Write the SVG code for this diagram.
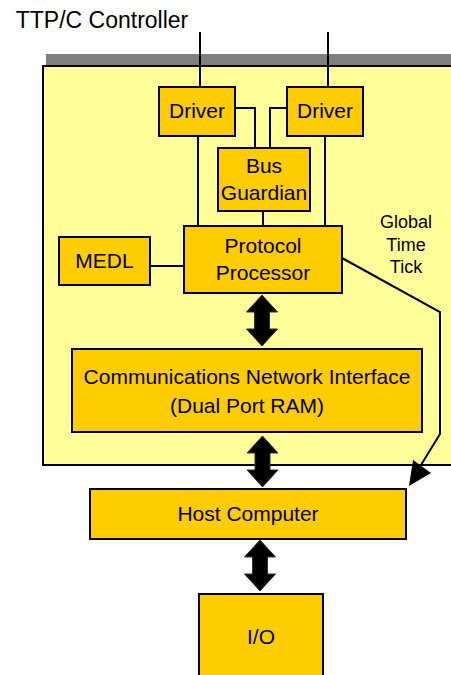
<svg xmlns="http://www.w3.org/2000/svg" width="451" height="675" viewBox="0 0 451 675">
<style>
.box{fill:#FFCC00;stroke:#000;stroke-width:2}
.t{font-family:"Liberation Sans",Arial,sans-serif;fill:#000;text-anchor:middle}
.b{font-size:21px}
.ln{fill:none;stroke:#000;stroke-width:2}
</style>
<defs>
<path id="dbl" d="M0,0 L15.5,17 L7.5,17 L7.5,34 L15.5,34 L0,51 L-15.5,34 L-7.5,34 L-7.5,17 L-15.5,17 Z" fill="#000" stroke="#333" stroke-width="1"/>
</defs>
<rect width="451" height="675" fill="#fff"/>
<g id="controller">
<rect x="46" y="54" width="410" height="11" fill="#808080"/>
<rect x="43" y="66" width="420" height="399" fill="#FFFF99" stroke="#000" stroke-width="2"/>
<text class="t" x="102" y="28" font-size="23">TTP/C Controller</text>
</g>
<g id="connectors">
<path class="ln" d="M200,32 V87 M328,32 V87"/>
<path class="ln" d="M235,108 H255 V148 M287,108 H270 V148"/>
<path class="ln" d="M198,136 V226 M325,136 V226 M263,211 V226"/>
<path class="ln" d="M151,266 H183"/>
<path class="ln" d="M342,258 L440,312 L440,434 L421,465"/>
<polygon points="409,486 413,460 431,473" fill="#000"/>
<use href="#dbl" x="262" y="295"/>
<use href="#dbl" x="262.5" y="436"/>
<use href="#dbl" x="260" y="540"/>
</g>
<g id="driver1"><rect class="box" x="159" y="87" width="76" height="49"/><text class="t b" x="197" y="118">Driver</text></g>
<g id="driver2"><rect class="box" x="287" y="87" width="76" height="49"/><text class="t b" x="325" y="118">Driver</text></g>
<g id="bus-guardian"><rect class="box" x="218" y="148" width="92" height="63"/><text class="t b" x="264" y="173">Bus</text><text class="t b" x="264" y="200">Guardian</text></g>
<g id="protocol-processor"><rect class="box" x="184" y="226" width="158" height="67"/><text class="t b" x="263" y="253">Protocol</text><text class="t b" x="263" y="280">Processor</text></g>
<g id="medl"><rect class="box" x="59" y="237" width="91" height="48"/><text class="t b" x="104.5" y="268">MEDL</text></g>
<g id="global-time-tick"><text class="t" x="406" y="228" font-size="18">Global</text><text class="t" x="406" y="251" font-size="18">Time</text><text class="t" x="406" y="273" font-size="18">Tick</text></g>
<g id="cni"><rect class="box" x="72" y="349" width="350" height="83"/><text class="t b" x="247" y="384">Communications Network Interface</text><text class="t b" x="247" y="413">(Dual Port RAM)</text></g>
<g id="host-computer"><rect class="box" x="90" y="489" width="316" height="50"/><text class="t b" x="248" y="521">Host Computer</text></g>
<g id="io"><rect class="box" x="199" y="594" width="124" height="90"/><text class="t b" x="261" y="644">I/O</text></g>
</svg>
